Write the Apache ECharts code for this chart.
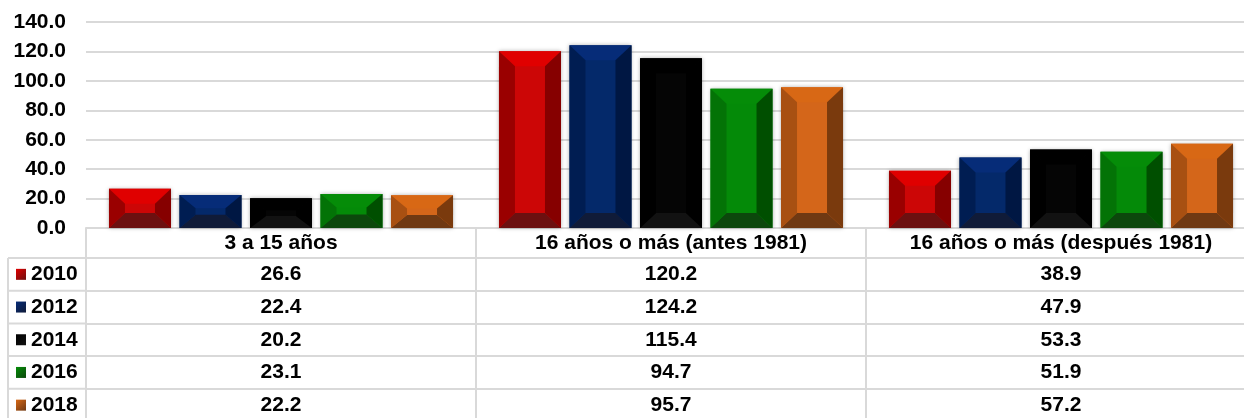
<!DOCTYPE html>
<html>
<head>
<meta charset="utf-8">
<script src="https://cdn.jsdelivr.net/npm/echarts@6/dist/echarts.min.js"></script>
<style>
    html, body { margin: 0; padding: 0; background: #fff; }
    #chart { width: 1244px; height: 418px; }
</style>
</head>
<body>
<div id="chart"></div>
<script>
// categorías (columnas de la tabla)
const categories = ['3 a 15 años', '16 años o más (antes 1981)', '16 años o más (después 1981)'];
// años (series)
const years = ['2010', '2012', '2014', '2016', '2018'];
// valores por año
const values2010 = [26.6, 120.2, 38.9];
const values2012 = [22.4, 124.2, 47.9];
const values2014 = [20.2, 115.4, 53.3];
const values2016 = [23.1, 94.7, 51.9];
const values2018 = [22.2, 95.7, 57.2];
const allValues = [values2010, values2012, values2014, values2016, values2018];
// eje Y
const yMin = 0, yMax = 140, yStep = 20;

// colores del bisel: cara, arriba, izquierda, derecha, abajo
const bevelColors = [
    {face: '#cc0606', top: '#e00000', left: '#9a0000', right: '#860000', bottom: '#6c1010'},
    {face: '#04296a', top: '#062c78', left: '#001d52', right: '#001743', bottom: '#101b38'},
    {face: '#050505', top: '#000000', left: '#000000', right: '#000000', bottom: '#121212'},
    {face: '#048a08', top: '#058c08', left: '#037306', right: '#004f00', bottom: '#0c470c'},
    {face: '#d4661a', top: '#d86815', left: '#a85012', right: '#7a3a0d', bottom: '#6f3913'}
];

const FONT = "'Liberation Sans', Arial, sans-serif";
const GRID_LINE = '#d9d9d9';
const AXIS_Y = 228;      // línea del cero / borde superior de la tabla
const HEADER_H = 30;
const ROW_H = 32.7;
const BAR_RATIO = 0.159;   // ancho de barra / ancho de categoría
const STEP_RATIO = 0.1808; // paso entre barras / ancho de categoría

const textStyle = {fontSize: 21, fontWeight: 'bold', color: '#000', fontFamily: FONT};

// bisel de cada barra
function bevelBar(sIdx) {
    const c = bevelColors[sIdx];
    return function (params, api) {
        const base = api.coord([api.value(0), 0]);
        const topPt = api.coord([api.value(0), api.value(1)]);
        const band = api.size([1, 0])[0];
        const w = band * BAR_RATIO;
        const step = band * STEP_RATIO;
        const x0 = base[0] + (sIdx - (years.length - 1) / 2) * step - w / 2;
        const x1 = x0 + w;
        const y0 = topPt[1], y1 = base[1];
        const h = y1 - y0;
        const bx = 16, by = Math.min(15, h * 0.4);
        const poly = (pts, color) => ({type: 'polygon', shape: {points: pts}, style: {fill: color}});
        return {
            type: 'group',
            children: [
                {type: 'rect', shape: {x: x0, y: y0, width: w, height: h},
                    style: {fill: c.face, shadowBlur: 4, shadowColor: 'rgba(0,0,0,0.3)'}},
                poly([[x0, y0], [x1, y0], [x1 - bx, y0 + by], [x0 + bx, y0 + by]], c.top),
                poly([[x0, y1], [x1, y1], [x1 - bx, y1 - by], [x0 + bx, y1 - by]], c.bottom),
                poly([[x0, y0], [x0 + bx, y0 + by], [x0 + bx, y1 - by], [x0, y1]], c.left),
                poly([[x1, y0], [x1 - bx, y0 + by], [x1 - bx, y1 - by], [x1, y1]], c.right)
            ]
        };
    };
}

// ejes X: cabecera + una fila por año (tabla de datos)
const xAxes = [{
    type: 'category',
    data: categories,
    position: 'bottom',
    offset: 0,
    axisLine: {show: true, lineStyle: {color: GRID_LINE, width: 2}},
    axisTick: {show: true, interval: 0, length: HEADER_H, lineStyle: {color: GRID_LINE, width: 2}},
    axisLabel: Object.assign({interval: 0, margin: HEADER_H / 2, verticalAlign: 'middle'}, textStyle)
}];
years.forEach((y, k) => {
    xAxes.push({
        type: 'category',
        data: categories,
        position: 'bottom',
        offset: HEADER_H + k * ROW_H,
        axisLine: {show: true, lineStyle: {color: GRID_LINE, width: 2}},
        axisTick: {show: true, interval: 0, length: ROW_H, lineStyle: {color: GRID_LINE, width: 2}},
        axisLabel: Object.assign({
            interval: 0, margin: ROW_H / 2, verticalAlign: 'middle',
            formatter: (v, i) => allValues[k][i].toFixed(1)
        }, textStyle)
    });
});

// bordes de la columna izquierda (años)
const leftLines = [{
    type: 'line', shape: {x1: 8, y1: AXIS_Y + HEADER_H, x2: 8, y2: 418},
    style: {stroke: GRID_LINE, lineWidth: 2}
}];
for (let k = 0; k < years.length; k++) {
    const yy = AXIS_Y + HEADER_H + k * ROW_H;
    leftLines.push({type: 'line', shape: {x1: 8, y1: yy, x2: 86, y2: yy}, style: {stroke: GRID_LINE, lineWidth: 2}});
}

const option = {
    animation: false,
    backgroundColor: '#fff',
    // la tabla sigue más allá del borde derecho
    grid: {left: 86, width: 1170, top: 22, bottom: 418 - AXIS_Y, containLabel: false, outerBoundsMode: 'none'},
    legend: {
        orient: 'vertical',
        left: 16,
        top: AXIS_Y + HEADER_H + ROW_H / 2 - 11,
        height: 200,
        padding: 0,
        icon: 'rect',
        itemWidth: 10,
        itemHeight: 11,
        itemGap: ROW_H - 22,
        textStyle: Object.assign({lineHeight: 22}, textStyle),
        data: years.map((y, i) => ({
            name: y,
            itemStyle: {color: new echarts.graphic.LinearGradient(0, 0, 1, 1, [
                {offset: 0, color: bevelColors[i].top},
                {offset: 1, color: bevelColors[i].bottom}
            ])}
        }))
    },
    xAxis: xAxes,
    yAxis: {
        type: 'value',
        min: yMin,
        max: yMax,
        interval: yStep,
        axisLine: {show: false},
        axisTick: {show: false},
        splitLine: {lineStyle: {color: GRID_LINE, width: 2}},
        axisLabel: Object.assign({margin: 20, formatter: v => v.toFixed(1)}, textStyle)
    },
    graphic: leftLines,
    series: years.map((y, i) => ({
        name: y,
        type: 'custom',
        xAxisIndex: 0,
        color: bevelColors[i].face,
        renderItem: bevelBar(i),
        encode: {x: 0, y: 1},
        data: allValues[i].map((v, j) => [j, v])
    }))
};

const chart = echarts.init(document.getElementById('chart'));
chart.setOption(option);
</script>
</body>
</html>
